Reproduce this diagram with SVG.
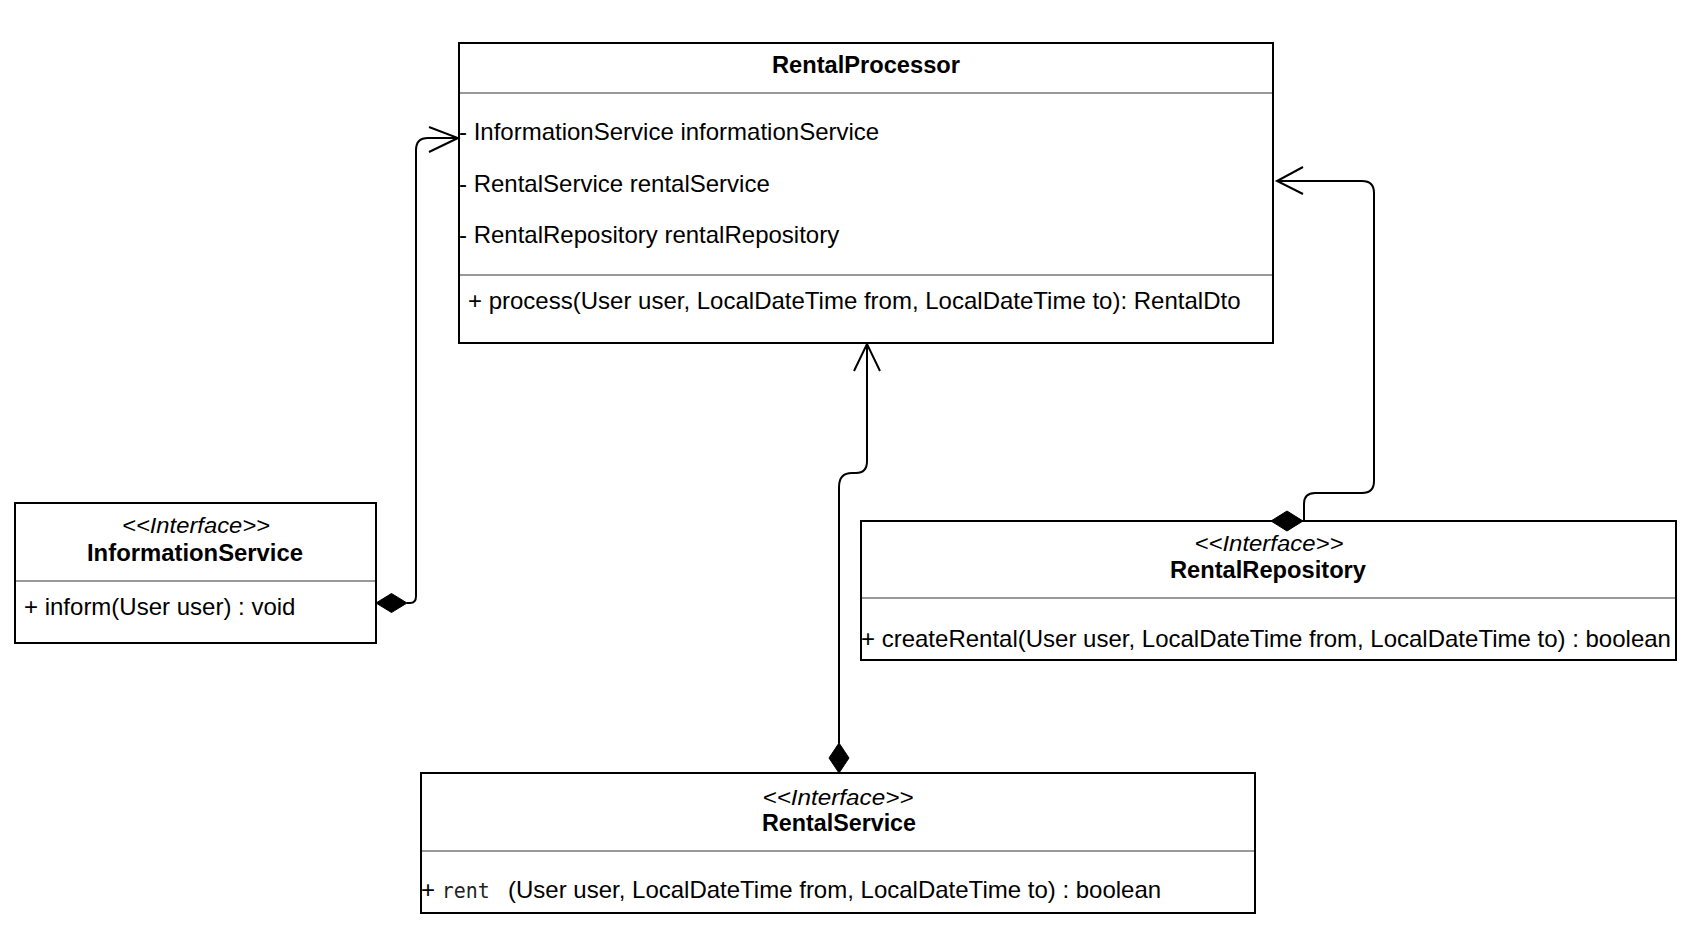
<svg xmlns="http://www.w3.org/2000/svg" width="1690" height="940" viewBox="0 0 1690 940">
<style>
.box{fill:#fff;stroke:#000;stroke-width:2}
.div{stroke:#999;stroke-width:2}
.t{font-family:"Liberation Sans",Arial,Helvetica,sans-serif;font-size:24px;fill:#000}
.h{font-family:"Liberation Sans",Arial,Helvetica,sans-serif;font-size:23px;font-weight:bold;fill:#000;text-anchor:middle}
.st{font-family:"Liberation Sans",Arial,Helvetica,sans-serif;font-size:22px;font-style:italic;fill:#000;text-anchor:middle}
.mono{font-family:"DejaVu Sans Mono","Liberation Mono",monospace;font-size:21px;fill:#222}
.edge{fill:none;stroke:#000;stroke-width:2}
.dia{fill:#000;stroke:#000;stroke-width:1}
</style>
<rect width="1690" height="940" fill="#fff"/>
<g id="RentalProcessor">
  <rect class="box" x="459" y="43" width="814" height="300"/>
  <line class="div" x1="460" y1="93" x2="1272" y2="93"/>
  <line class="div" x1="460" y1="275" x2="1272" y2="275"/>
  <text class="h" x="866" y="73" textLength="188" lengthAdjust="spacingAndGlyphs">RentalProcessor</text>
  <text class="t" x="459" y="140">- InformationService informationService</text>
  <text class="t" x="459" y="192">- RentalService rentalService</text>
  <text class="t" x="459" y="243">- RentalRepository rentalRepository</text>
  <text class="t" x="468" y="309">+ process(User user, LocalDateTime from, LocalDateTime to): RentalDto</text>
</g>
<g id="InformationService">
  <rect class="box" x="15" y="503" width="361" height="140"/>
  <line class="div" x1="16" y1="581" x2="375" y2="581"/>
  <text class="st" x="196" y="533" textLength="148" lengthAdjust="spacingAndGlyphs">&lt;&lt;Interface&gt;&gt;</text>
  <text class="h" x="195" y="561" textLength="216" lengthAdjust="spacingAndGlyphs">InformationService</text>
  <text class="t" x="24" y="615">+ inform(User user) : void</text>
</g>
<g id="RentalRepository">
  <rect class="box" x="861" y="521" width="815" height="139"/>
  <line class="div" x1="862" y1="598" x2="1675" y2="598"/>
  <text class="st" x="1269" y="551" textLength="149" lengthAdjust="spacingAndGlyphs">&lt;&lt;Interface&gt;&gt;</text>
  <text class="h" x="1268" y="578" textLength="196" lengthAdjust="spacingAndGlyphs">RentalRepository</text>
  <text class="t" x="861" y="647">+ createRental(User user, LocalDateTime from, LocalDateTime to) : boolean</text>
</g>
<g id="RentalService">
  <rect class="box" x="421" y="773" width="834" height="140"/>
  <line class="div" x1="422" y1="851" x2="1254" y2="851"/>
  <text class="st" x="838" y="805" textLength="151" lengthAdjust="spacingAndGlyphs">&lt;&lt;Interface&gt;&gt;</text>
  <text class="h" x="839" y="831" textLength="154" lengthAdjust="spacingAndGlyphs">RentalService</text>
  <text class="t" x="421" y="898">+ <tspan class="mono" textLength="48" lengthAdjust="spacingAndGlyphs">rent</tspan></text>
  <text class="t" x="508" y="898">(User user, LocalDateTime from, LocalDateTime to) : boolean</text>
</g>
<g id="connectors">
  <g id="edge-info">
    <path class="edge" d="M407 603 L410 603 Q416 603 416 596 L416 150 Q416 138 428 138 L458 138"/>
    <path class="edge" d="M429 127 L458 138 L429 152"/>
    <polygon class="dia" points="376,603 391.5,593.5 407,603 391.5,612.5"/>
  </g>
  <g id="edge-repo">
    <path class="edge" d="M1304 521 L1304 504 Q1304 493 1315 493 L1362 493 Q1374 493 1374 481 L1374 193 Q1374 181 1362 181 L1277 181"/>
    <path class="edge" d="M1303 167 L1277 181 L1303 194"/>
    <polygon class="dia" points="1271,521 1287,511 1303,521 1287,531"/>
  </g>
  <g id="edge-rental">
    <path class="edge" d="M839 743 L839 487 Q839 473 852 473 L856 473 Q867 473 867 461 L867 344"/>
    <path class="edge" d="M854 371 L867 344 L880 371"/>
    <polygon class="dia" points="839,773 849,758 839,743 829,758"/>
  </g>
</g>
</svg>
